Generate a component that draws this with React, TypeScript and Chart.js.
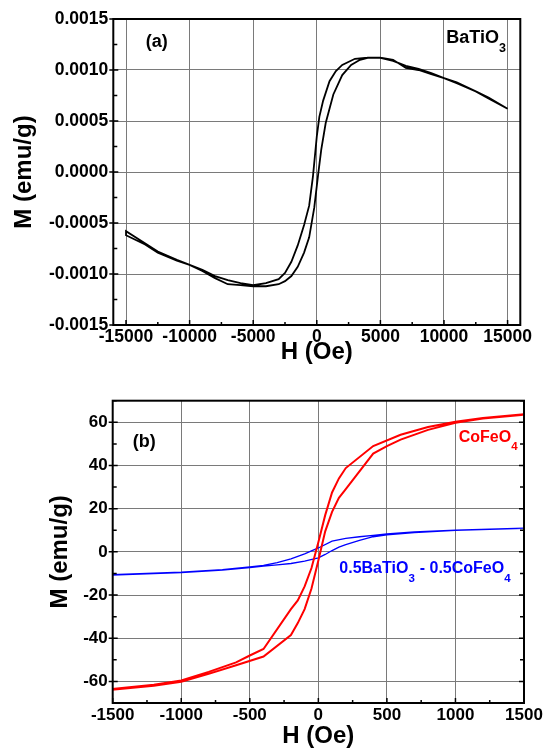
import { useEffect, useRef } from "react";
import { Chart, registerables } from "chart.js";

Chart.register(...registerables);

const FONT = "'Liberation Sans', Arial, Helvetica, sans-serif";

// ---------- Panel (a): BaTiO3 ----------
const batDescH = [15000, 13500, 12500, 11000, 10000, 9000, 8000, 7000, 6000, 5000, 4000, 3000, 2000, 1500, 1000, 500, 200, 0, -300, -600, -1000, -1500, -2000, -2500, -3000, -4000, -5000, -6000, -7000, -8000, -9000, -10000, -11000, -12500, -15000];
const batDescM = [0.00062, 0.00072, 0.00079, 0.00087, 0.00092, 0.00097, 0.00101, 0.00104, 0.00109, 0.00112, 0.00112, 0.00111, 0.00105, 0.00099, 0.00089, 0.0007, 0.00054, 0.00035, -0.00004, -0.00033, -0.00052, -0.00072, -0.00088, -0.00099, -0.00105, -0.00109, -0.00111, -0.00109, -0.00106, -0.00102, -0.00096, -0.00091, -0.00086, -0.00078, -0.00058];
const batAscH = [-15000, -13500, -12500, -11000, -10000, -9000, -8000, -7000, -6000, -5000, -4000, -3000, -2500, -2000, -1500, -1000, -600, -200, 100, 350, 700, 1000, 1300, 2000, 2700, 3400, 4000, 5000, 6000, 7000, 8000, 9000, 10000, 11000, 12500, 13500, 15000];
const batAscM = [-0.00062, -0.00071, -0.00079, -0.00087, -0.00091, -0.00097, -0.00104, -0.0011, -0.00111, -0.00112, -0.00112, -0.0011, -0.00107, -0.00102, -0.00093, -0.00079, -0.00064, -0.00035, -0.00003, 0.00022, 0.00048, 0.00062, 0.00076, 0.00095, 0.00105, 0.0011, 0.00112, 0.00112, 0.0011, 0.00102, 0.001, 0.00096, 0.00092, 0.00088, 0.00079, 0.00073, 0.00062];

const xTicksA = [-15000, -10000, -5000, 0, 5000, 10000, 15000];
const xTickLabelsA = ["-15000", "-10000", "-5000", "0", "5000", "10000", "15000"];
const xMinorA = [-12500, -7500, -2500, 2500, 7500, 12500];
const yTicksA = [-0.0015, -0.001, -0.0005, 0, 0.0005, 0.001, 0.0015];
const yTickLabelsA = ["-0.0015", "-0.0010", "-0.0005", "0.0000", "0.0005", "0.0010", "0.0015"];
const yMinorA = [-0.00125, -0.00075, -0.00025, 0.00025, 0.00075, 0.00125];

// ---------- Panel (b): CoFeO4 and composite ----------
const cfoDescH = [1500, 1200, 1000, 800, 600, 400, 200, 150, 100, 50, 0, -50, -100, -150, -200, -400, -500, -600, -800, -1000, -1200, -1500];
const cfoDescM = [63.7, 62, 60.2, 57.8, 54.2, 49, 38.8, 34, 27.5, 17, 4.5, -7.5, -16, -22.5, -26.5, -45, -48, -51.2, -55.6, -59.6, -61.6, -63.5];
const cfoAscH = [-1500, -1200, -1000, -800, -600, -400, -200, -150, -100, -50, 0, 50, 100, 150, 200, 400, 500, 600, 800, 1000, 1200, 1500];
const cfoAscM = [-63.8, -62, -60.2, -56.5, -52.5, -48.5, -38.5, -33, -26.5, -17, -4, 9.5, 18.5, 25, 29, 45.5, 49, 52, 56.5, 59.8, 61.8, 63.5];

const compDescH = [1500, 1000, 700, 500, 400, 300, 200, 100, 0, -100, -200, -300, -400, -500, -700, -1000, -1500];
const compDescM = [11, 10, 9.2, 8.3, 7.6, 7.0, 6.2, 5.0, 1.8, -0.9, -3.2, -5.0, -6.3, -7.0, -8.2, -9.4, -10.5];
const compAscH = [-1500, -1000, -700, -500, -400, -300, -200, -100, 0, 50, 100, 150, 200, 300, 400, 500, 700, 1000, 1500];
const compAscM = [-10.7, -9.6, -8.4, -7.3, -6.6, -6.0, -5.4, -4.3, -2.8, -1.2, 0.6, 2.2, 3.3, 5.3, 7.0, 7.9, 8.9, 9.9, 10.9];

const xTicksB = [-1500, -1000, -500, 0, 500, 1000, 1500];
const xTickLabelsB = ["-1500", "-1000", "-500", "0", "500", "1000", "1500"];
const xMinorB = [-1250, -750, -250, 250, 750, 1250];
const yTicksB = [-60, -40, -20, 0, 20, 40, 60];
const yTickLabelsB = ["-60", "-40", "-20", "0", "20", "40", "60"];
const yMinorB = [-70, -50, -30, -10, 10, 30, 50, 70];

type Part = { t: string; sub?: boolean };
type Label = { x: number; y: number; parts: Part[]; color: string; size: number; subSize: number; subDy: number };

const labelsA: Label[] = [
  { x: -13445, y: 0.001226, parts: [{ t: "(a)" }], color: "#000", size: 18, subSize: 12, subDy: 8.5 },
  { x: 10184, y: 0.001262, parts: [{ t: "BaTiO" }, { t: "3", sub: true }], color: "#000", size: 18, subSize: 12.5, subDy: 8.7 },
];
const labelsB: Label[] = [
  { x: -1353, y: 48.4, parts: [{ t: "(b)" }], color: "#000", size: 18, subSize: 12, subDy: 8.5 },
  { x: 1024, y: 51.0, parts: [{ t: "CoFeO" }, { t: "4", sub: true }], color: "#ff0000", size: 16, subSize: 11.5, subDy: 8.3 },
  { x: 153, y: -10.0, parts: [{ t: "0.5BaTiO" }, { t: "3", sub: true }, { t: " - 0.5CoFeO" }, { t: "4", sub: true }], color: "#0000ff", size: 16, subSize: 11.5, subDy: 8.3 },
];

const toPts = (h: number[], m: number[]) => h.map((v, i) => ({ x: v, y: m[i] }));

function framePlugin(o: {
  xMajor: number[]; xMinor: number[]; yMajor: number[]; yMinor: number[]; rightTicks: boolean; labels: Label[];
}) {
  return {
    id: "frameTicks",
    afterDraw(chart: any) {
      const { ctx, chartArea: a, scales } = chart;
      const xs = scales.x;
      const ys = scales.y;
      ctx.save();
      ctx.strokeStyle = "#000";
      ctx.lineWidth = 1.5;
      ctx.beginPath();
      for (const v of o.xMajor) {
        const p = xs.getPixelForValue(v);
        ctx.moveTo(p, a.bottom);
        ctx.lineTo(p, a.bottom - 5);
      }
      for (const v of o.xMinor) {
        const p = xs.getPixelForValue(v);
        ctx.moveTo(p, a.bottom);
        ctx.lineTo(p, a.bottom - 3);
      }
      for (const v of o.yMajor) {
        const p = ys.getPixelForValue(v);
        ctx.moveTo(a.left - 4, p);
        ctx.lineTo(a.left + 5, p);
        if (o.rightTicks) {
          ctx.moveTo(a.right, p);
          ctx.lineTo(a.right - 5, p);
        }
      }
      for (const v of o.yMinor) {
        const p = ys.getPixelForValue(v);
        ctx.moveTo(a.left, p);
        ctx.lineTo(a.left + 4, p);
        if (o.rightTicks) {
          ctx.moveTo(a.right, p);
          ctx.lineTo(a.right - 4, p);
        }
      }
      ctx.stroke();
      ctx.lineWidth = 2;
      ctx.strokeRect(a.left, a.top, a.right - a.left, a.bottom - a.top);

      for (const l of o.labels) {
        let px = xs.getPixelForValue(l.x);
        const py = ys.getPixelForValue(l.y);
        ctx.fillStyle = l.color;
        ctx.textAlign = "left";
        ctx.textBaseline = "alphabetic";
        for (const p of l.parts) {
          ctx.font = `bold ${p.sub ? l.subSize : l.size}px ${FONT}`;
          ctx.fillText(p.t, px, p.sub ? py + l.subDy : py);
          px += ctx.measureText(p.t).width + (p.sub ? 0.5 : 0);
        }
      }
      ctx.restore();
    },
  };
}

function axes(opt: {
  xMin: number; xMax: number; yMin: number; yMax: number;
  xTicks: number[]; xLabels: string[]; yTicks: number[]; yLabels: string[];
  yWidth: number; xHeight: number; tickSize: number; xTitlePad: number; yTitlePad: number;
}) {
  const tickFont = { family: FONT, weight: "bold" as const, size: opt.tickSize };
  const titleFont = { family: FONT, weight: "bold" as const, size: 24 };
  return {
    x: {
      type: "linear" as const,
      min: opt.xMin,
      max: opt.xMax,
      afterBuildTicks: (s: any) => { s.ticks = opt.xTicks.map((v) => ({ value: v })); },
      afterFit: (s: any) => { s.height = opt.xHeight; },
      ticks: {
        autoSkip: false, maxRotation: 0, minRotation: 0, padding: 2, color: "#000", font: tickFont,
        callback: (_v: any, i: number) => opt.xLabels[i],
      },
      grid: { color: "#7a7a7a", lineWidth: 1, drawTicks: false },
      border: { display: false },
      title: { display: true, text: "H (Oe)", color: "#000", font: titleFont, padding: { top: 0, bottom: opt.xTitlePad } },
    },
    y: {
      type: "linear" as const,
      min: opt.yMin,
      max: opt.yMax,
      afterBuildTicks: (s: any) => { s.ticks = opt.yTicks.map((v) => ({ value: v })); },
      afterFit: (s: any) => { s.width = opt.yWidth; },
      ticks: {
        autoSkip: false, padding: 5, color: "#000", font: tickFont,
        callback: (_v: any, i: number) => opt.yLabels[i],
      },
      grid: { color: "#7a7a7a", lineWidth: 1, drawTicks: false },
      border: { display: false },
      title: { display: true, text: "M (emu/g)", color: "#000", font: titleFont, padding: { top: opt.yTitlePad, bottom: 0 } },
    },
  };
}

export default function App() {
  const refA = useRef<HTMLCanvasElement>(null);
  const refB = useRef<HTMLCanvasElement>(null);

  useEffect(() => {
    const common = {
      responsive: false,
      animation: false as const,
      devicePixelRatio: 1,
      events: [] as any[],
      plugins: { legend: { display: false }, tooltip: { enabled: false } },
    };
    const chartA = new Chart(refA.current!, {
      type: "scatter",
      data: {
        datasets: [
          {
            data: [...toPts(batDescH, batDescM), ...toPts(batAscH, batAscM)],
            showLine: true, borderColor: "#000", borderWidth: 1.8, pointRadius: 0, tension: 0, fill: false,
          },
        ],
      },
      options: {
        ...common,
        layout: { padding: { left: 0, top: 19, right: 31.7, bottom: 0 } },
        scales: axes({
          xMin: -16000, xMax: 16000, yMin: -0.0015, yMax: 0.0015,
          xTicks: xTicksA, xLabels: xTickLabelsA, yTicks: yTicksA, yLabels: yTickLabelsA,
          yWidth: 113.3, xHeight: 55, tickSize: 17.5, xTitlePad: 13.6, yTitlePad: 9.6,
        }) as any,
      },
      plugins: [framePlugin({ xMajor: xTicksA, xMinor: xMinorA, yMajor: yTicksA, yMinor: yMinorA, rightTicks: false, labels: labelsA })],
    });
    const chartB = new Chart(refB.current!, {
      type: "scatter",
      data: {
        datasets: [
          {
            data: [...toPts(cfoDescH, cfoDescM), ...toPts(cfoAscH, cfoAscM)],
            showLine: true, borderColor: "#ff0000", borderWidth: 2, pointRadius: 0, tension: 0, fill: false,
          },
          {
            data: [...toPts(compDescH, compDescM), ...toPts(compAscH, compAscM)],
            showLine: true, borderColor: "#0000ff", borderWidth: 1.3, pointRadius: 0, tension: 0, fill: false,
          },
        ],
      },
      options: {
        ...common,
        layout: { padding: { left: 0, top: 20.7, right: 28, bottom: 0 } },
        scales: axes({
          xMin: -1500, xMax: 1500, yMin: -70, yMax: 70,
          xTicks: xTicksB, xLabels: xTickLabelsB, yTicks: yTicksB, yLabels: yTickLabelsB,
          yWidth: 112.7, xHeight: 48, tickSize: 17, xTitlePad: 0, yTitlePad: 45.6,
        }) as any,
      },
      plugins: [framePlugin({ xMajor: xTicksB, xMinor: xMinorB, yMajor: yTicksB, yMinor: yMinorB, rightTicks: true, labels: labelsB })],
    });
    return () => {
      chartA.destroy();
      chartB.destroy();
    };
  }, []);

  return (
    <div style={{ position: "absolute", left: 0, top: 0, width: 552, height: 751, background: "#fff", overflow: "hidden" }}>
      <canvas ref={refA} width={552} height={380} style={{ position: "absolute", left: 0, top: 0, width: 552, height: 380, display: "block" }} />
      <canvas ref={refB} width={552} height={371} style={{ position: "absolute", left: 0, top: 380, width: 552, height: 371, display: "block" }} />
    </div>
  );
}
